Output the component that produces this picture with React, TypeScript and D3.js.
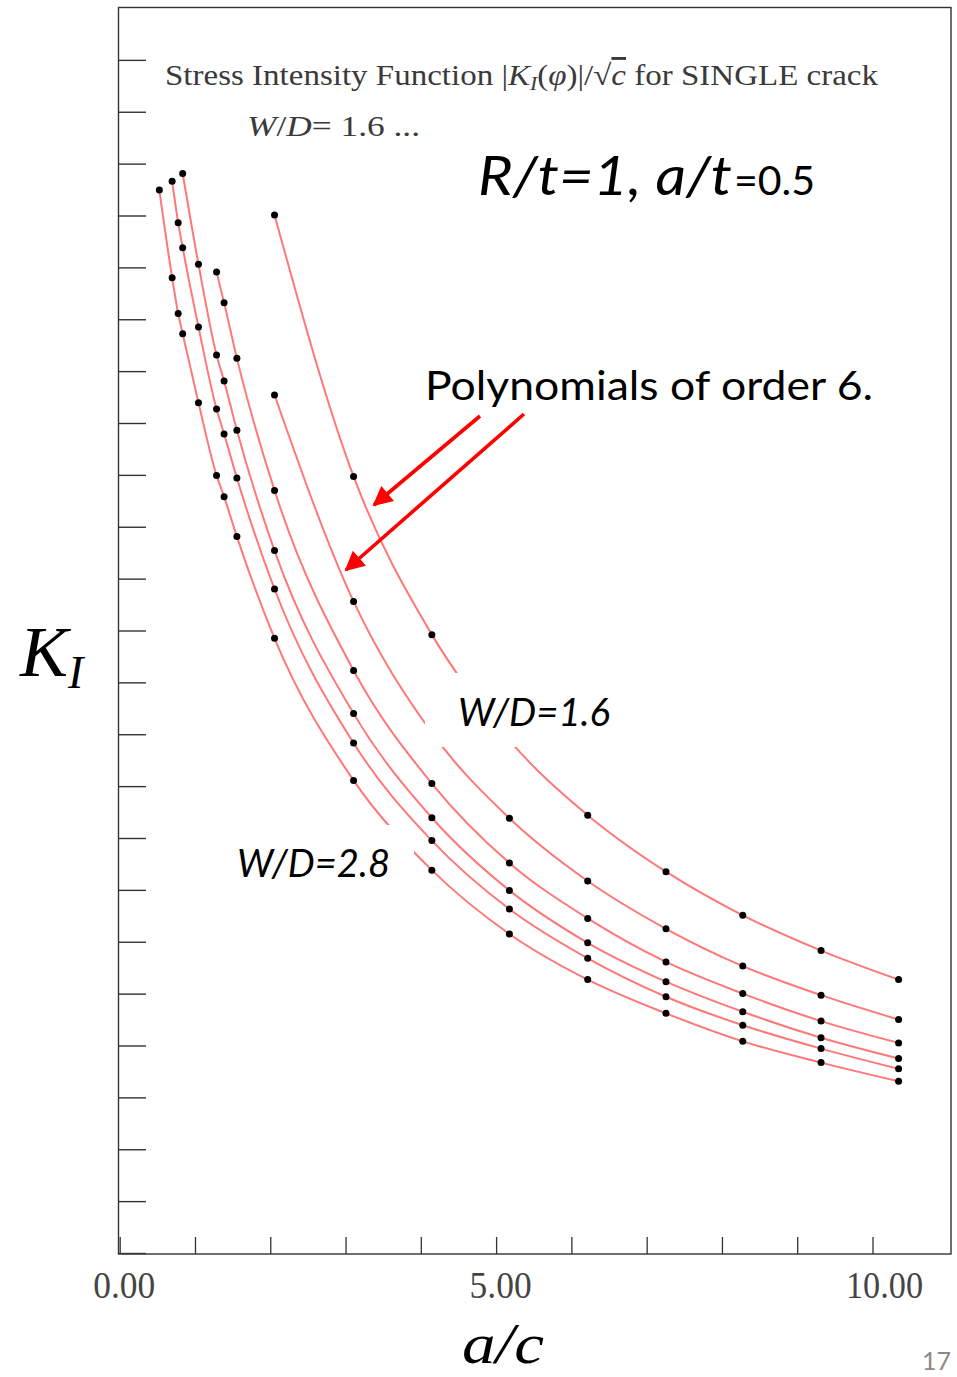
import React, { useEffect } from "react";
import * as d3 from "d3";

// a/c sample positions shared by the curves
const acCommon = [2.05, 3.10, 4.14, 5.17, 6.21, 7.25, 8.27, 9.31, 10.34];
const acCurve3 = [1.28, 1.38, 1.55, ...acCommon];
const acCurve4 = [0.83, 1.04, 1.28, 1.38, 1.55, ...acCommon];
const acCurve5 = [0.69, 0.77, 0.83, 1.04, 1.28, 1.38, 1.55, ...acCommon];
const acCurve6 = [0.52, 0.69, 0.77, 0.83, 1.04, 1.28, 1.38, 1.55, ...acCommon];

// |K_I| / sqrt(c) values, one array per W/D curve (top = W/D 1.6, bottom = W/D 2.8)
const kCurve1 = [2.002, 1.498, 1.193, 0.989, 0.845, 0.736, 0.652, 0.584, 0.528];
const kCurve2 = [1.655, 1.257, 1.004, 0.839, 0.718, 0.626, 0.554, 0.498, 0.451];
const kCurve3 = [1.892, 1.833, 1.726, 1.471, 1.124, 0.906, 0.753, 0.646, 0.562, 0.501, 0.448, 0.406];
const kCurve4 = [2.082, 1.907, 1.732, 1.682, 1.587, 1.355, 1.041, 0.84, 0.7, 0.599, 0.524, 0.466, 0.416, 0.376];
const kCurve5 = [2.067, 1.987, 1.939, 1.786, 1.628, 1.58, 1.495, 1.281, 0.984, 0.796, 0.664, 0.569, 0.495, 0.44, 0.395, 0.356];
const kCurve6 = [2.05, 1.881, 1.812, 1.773, 1.64, 1.5, 1.459, 1.382, 1.186, 0.912, 0.739, 0.616, 0.528, 0.463, 0.409, 0.368, 0.332];

const curveX = [acCommon, acCommon, acCurve3, acCurve4, acCurve5, acCurve6];
const curveK = [kCurve1, kCurve2, kCurve3, kCurve4, kCurve5, kCurve6];

const xTickLabels = [0, 5, 10];

const W = 957;
const H = 1377;

const serif = "'Liberation Serif', 'DejaVu Serif', serif";
const sans = "Lato, 'Open Sans', 'Liberation Sans', sans-serif";

export default function App() {
  useEffect(() => {
    document.body.style.margin = "0";
  }, []);

  const x = d3.scaleLinear().domain([0, 10]).range([120.2, 873]);
  const y = d3.scaleLinear().domain([0, 2.4]).range([1253.5, 8.5]);

  const frame = { left: 118.5, right: 951, top: 7.5, bottom: 1254 };

  const yTicks = d3.range(0, 24).map((i) => i / 10);
  const xTicks = x.ticks(10);

  const line = d3
    .line<[number, number]>()
    .x((d) => x(d[0]))
    .y((d) => y(d[1]))
    .curve(d3.curveMonotoneX);

  const series = curveX.map((xs, i) => xs.map((v, j) => [v, curveK[i][j]] as [number, number]));

  return (
    <svg width={W} height={H} style={{ display: "block", background: "#fff" }}>
      <defs>
        <marker id="redHead" viewBox="0 0 10 10" refX="9" refY="5" markerWidth="6" markerHeight="5.5" orient="auto" markerUnits="strokeWidth">
          <path d="M0,0 L10,5 L0,10 Z" fill="#ff0000" />
        </marker>
      </defs>

      {/* plot frame */}
      <rect x={frame.left} y={frame.top} width={frame.right - frame.left} height={frame.bottom - frame.top} fill="none" stroke="#333" strokeWidth={1.4} />

      {/* y ticks (no labels) */}
      {yTicks.map((t) => (
        <line key={"yt" + t} x1={frame.left} x2={frame.left + 27.5} y1={y(t)} y2={y(t)} stroke="#333" strokeWidth={1.4} />
      ))}

      {/* x ticks */}
      {xTicks.map((t) => (
        <line key={"xt" + t} x1={x(t)} x2={x(t)} y1={frame.bottom} y2={frame.bottom - 17} stroke="#333" strokeWidth={1.3} />
      ))}
      {xTickLabels.map((t) => (
        <text
          key={"xl" + t}
          x={x(t) - 27}
          y={1298}
          fontFamily={serif}
          fontSize={38}
          fill="#444"
          textLength={t >= 10 ? 77 : 62}
          lengthAdjust="spacingAndGlyphs"
        >
          {d3.format(".2f")(t)}
        </text>
      ))}

      {/* fitted curves */}
      {series.map((s, i) => (
        <path key={"c" + i} d={line(s) || ""} fill="none" stroke="#ff7878" strokeWidth={2} />
      ))}
      {/* data points */}
      {series.map((s, i) =>
        s.map((d, j) => <circle key={`p${i}-${j}`} cx={x(d[0])} cy={y(d[1])} r={3.5} fill="#000" />)
      )}

      {/* title */}
      <text x={165} y={85} fontFamily={serif} fontSize={29} fill="#3a3a3a" textLength={713} lengthAdjust="spacingAndGlyphs">
        Stress Intensity Function |<tspan fontStyle="italic">K</tspan>
        <tspan fontStyle="italic" fontSize={19} dy={5}>I</tspan>
        <tspan dy={-5}>(</tspan>
        <tspan fontStyle="italic">φ</tspan>)|/√<tspan fontStyle="italic" style={{ textDecoration: "overline" }}>c</tspan> for SINGLE crack
      </text>
      <text x={247} y={136} fontFamily={serif} fontSize={29} fill="#3a3a3a" textLength={173} lengthAdjust="spacingAndGlyphs">
        <tspan fontStyle="italic">W</tspan>/<tspan fontStyle="italic">D</tspan>= 1.6 ...
      </text>

      {/* geometry parameters */}
      <text x={478} y={195} fontFamily={sans} fontStyle="italic" fontSize={54} fill="#000" textLength={254} lengthAdjust="spacingAndGlyphs">
        R/t=1, a/t
      </text>
      <text x={734} y={195} fontFamily={sans} fontSize={41} fill="#000" textLength={81} lengthAdjust="spacingAndGlyphs">
        =0.5
      </text>

      {/* annotation */}
      <text x={425} y={400} fontFamily={sans} fontSize={41} fill="#000" textLength={448} lengthAdjust="spacingAndGlyphs">
        Polynomials of order 6.
      </text>
      <line x1={480} y1={416} x2={374} y2={505} stroke="#ff0000" strokeWidth={3.6} markerEnd="url(#redHead)" />
      <line x1={524} y1={414} x2={346} y2={570} stroke="#ff0000" strokeWidth={3.6} markerEnd="url(#redHead)" />

      {/* curve labels on white boxes */}
      <rect x={425} y={673} width={190} height={74} fill="#fff" />
      <text x={458} y={726} fontFamily={sans} fontStyle="italic" fontSize={38} fill="#000" textLength={152} lengthAdjust="spacingAndGlyphs">
        W/D=1.6
      </text>
      <rect x={228} y={825} width={186} height={67} fill="#fff" />
      <text x={237} y={877} fontFamily={sans} fontStyle="italic" fontSize={38} fill="#000" textLength={153} lengthAdjust="spacingAndGlyphs">
        W/D=2.8
      </text>

      {/* axis titles */}
      <text x={20} y={676} fontFamily={serif} fontStyle="italic" fontSize={72} fill="#000">
        K<tspan fontSize={46} dy={12}>I</tspan>
      </text>
      <text x={462} y={1363} fontFamily={serif} fontStyle="italic" fontSize={56} fill="#000" textLength={82} lengthAdjust="spacingAndGlyphs">
        a/c
      </text>

      {/* page number */}
      <text x={922} y={1370} fontFamily={sans} fontSize={25} fill="#8a8a8a">
        17
      </text>
    </svg>
  );
}
